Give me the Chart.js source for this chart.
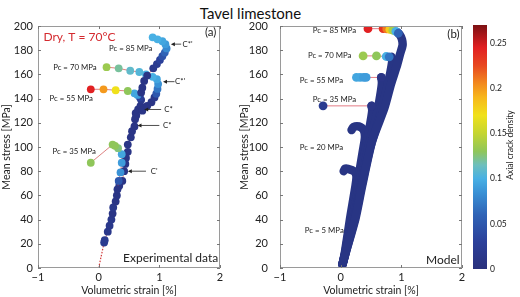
<!DOCTYPE html>
<html>
<head>
<meta charset="utf-8">
<script src="https://cdn.jsdelivr.net/npm/chart.js@4/dist/chart.umd.min.js"></script>
<style>
html, body { margin: 0; padding: 0; background: #fff; }
#wrap { position: relative; width: 520px; height: 297px; overflow: hidden; font-family: Lato, sans-serif; }
#wrap canvas { position: absolute; top: 0; }
#title { position: absolute; left: 0; width: 501px; top: 4px; text-align: center; font-size: 15px; color: #111; }
</style>
</head>
<body>
<div id="wrap">
	<div id="title">Tavel limestone</div>
	<canvas id="chartA" width="232" height="297" style="left:0"></canvas>
	<canvas id="chartB" width="234" height="297" style="left:238px"></canvas>
	<canvas id="chartC" width="54" height="297" style="left:466px"></canvas>
</div>
<script>
var xTicks = [-1, 0, 1, 2];
var yTicks = [0, 20, 40, 60, 80, 100, 120, 140, 160, 180, 200];
var densityTicks = [0, 0.05, 0.1, 0.15, 0.2, 0.25];
var densityMax = 0.27;

// (a) experimental data : volumetric strain, mean stress, axial crack density
var expMainX = [0.09, 0.10, 0.15, 0.18, 0.21, 0.23, 0.24, 0.28, 0.30, 0.34, 0.39, 0.42, 0.44, 0.45, 0.48, 0.48, 0.53, 0.55, 0.59, 0.60, 0.61];
var expMainY = [21, 23, 30, 35, 40, 45, 50, 55, 60, 68, 72, 80, 86, 91, 96, 102, 108, 113, 117, 123, 128];
var expMainD = [0.02, 0.02, 0.015, 0.015, 0.015, 0.01, 0.015, 0.01, 0.01, 0.01, 0.01, 0.01, 0.01, 0.01, 0.01, 0.01, 0.01, 0.01, 0.01, 0.01, 0.01];

var exp35X = [0.31, 0.33, 0.36, 0.38, 0.38, 0.32, 0.27, 0.23, -0.13];
var exp35Y = [65, 72, 79, 87, 94, 99, 101, 102, 87];
var exp35D = [0.01, 0.05, 0.085, 0.09, 0.095, 0.125, 0.13, 0.13, 0.13];

var exp55X = [0.62, 0.65, 0.69, 0.70, 0.68, 0.64, 0.59, 0.48, 0.28, 0.08, -0.13];
var exp55Y = [126, 131, 134, 139, 141, 143, 144.4, 146.3, 146.9, 147.7, 147.7];
var exp55D = [0.01, 0.01, 0.01, 0.015, 0.03, 0.09, 0.095, 0.13, 0.17, 0.2, 0.245];

var exp70X = [0.72, 0.80, 0.87, 0.92, 0.95, 0.97, 0.98, 0.96, 0.89, 0.78, 0.67, 0.52, 0.33, 0.13];
var exp70Y = [130, 134, 137, 141, 144, 148, 152, 156, 158, 160, 162, 163, 165, 166];
var exp70D = [0.01, 0.01, 0.01, 0.015, 0.05, 0.07, 0.085, 0.095, 0.1, 0.1, 0.105, 0.11, 0.12, 0.135];

var exp85X = [0.70, 0.72, 0.75, 0.80, 0.90, 0.96, 1.01, 1.05, 1.09, 1.12, 1.10, 1.05, 0.97, 0.89];
var exp85Y = [145, 149, 154.6, 159, 165, 168.5, 172, 175, 178, 181.5, 185, 187.4, 189, 190.6];
var exp85D = [0.01, 0.01, 0.01, 0.01, 0.015, 0.02, 0.03, 0.045, 0.06, 0.08, 0.09, 0.095, 0.1, 0.1];

var trendX = [0, 0.09];
var trendY = [0, 21];

// (b) model curves
var model5X = [0.03, 0.07, 0.155, 0.245, 0.26, 0.22, 0.12, 0.07, 0.05];
var model5Y = [3, 13, 41, 68, 76, 80, 82, 82, 80];
var model20X = [0.03, 0.075, 0.17, 0.27, 0.37, 0.40, 0.38, 0.30, 0.21, 0.18];
var model20Y = [3, 13, 41, 68, 98, 108, 114, 117, 116.5, 114];
var model35X = [0.03, 0.08, 0.20, 0.30, 0.42, 0.49, 0.52, 0.51];
var model35Y = [3, 13, 41, 68, 100, 120, 130, 134];
var model55X = [0.03, 0.08, 0.22, 0.33, 0.46, 0.60, 0.66, 0.68, 0.67];
var model55Y = [3, 13, 41, 68, 100, 128, 145, 153, 157.5];
var model70X = [0.03, 0.085, 0.235, 0.345, 0.49, 0.66, 0.76, 0.82, 0.85, 0.84];
var model70Y = [3, 13, 41, 68, 100, 128, 148, 162, 171, 174.5];
var model85X = [0.03, 0.085, 0.245, 0.355, 0.52, 0.72, 0.83, 0.92, 0.98, 1.02, 1.01, 0.97, 0.93];
var model85Y = [3, 13, 41, 68, 105, 132, 152, 166, 177, 184, 189, 193, 195];

// (b) model failure points
var dots85X = [0.45, 0.70, 0.76, 0.81, 0.86, 0.91, 0.95];
var dots85Y = [197.8, 197.8, 197.6, 197.2, 196.5, 195.5, 194];
var dots85D = [0.245, 0.235, 0.21, 0.18, 0.14, 0.1, 0.06];
var dots70X = [0.37, 0.59, 0.75, 0.80];
var dots70Y = [175.3, 175.3, 174.8, 174.5];
var dots70D = [0.135, 0.13, 0.1, 0.07];
var dots55X = [0.26, 0.32, 0.38, 0.42, 0.67];
var dots55Y = [157.5, 157.5, 157.5, 157.5, 157.5];
var dots55D = [0.095, 0.095, 0.09, 0.09, 0.01];
var dots35X = [-0.29, 0.51];
var dots35Y = [134, 134];
var dots35D = [0.02, 0.01];

var CMAP = [
	[0, '#29307c'], [0.03, '#2b409a'], [0.06, '#2f63b6'], [0.085, '#3a92d6'],
	[0.1, '#48b0e4'], [0.115, '#6dbfbd'], [0.13, '#8fc65a'], [0.15, '#c4d531'],
	[0.17, '#f0e11b'], [0.19, '#f7b71c'], [0.205, '#f28a1e'], [0.225, '#e8481f'],
	[0.245, '#e12022'], [0.27, '#7c1114']
];
var BAND = '#283584';
var AXIS_FONT = 'Lato';
var NOTE_SIZE = 7.8;

function hexRgb(h) {
	return [parseInt(h.substr(1, 2), 16), parseInt(h.substr(3, 2), 16), parseInt(h.substr(5, 2), 16)];
}

function cmap(v) {
	if(v <= CMAP[0][0]) return CMAP[0][1];
	for(var i = 1; i < CMAP.length; i++) {
		if(v <= CMAP[i][0]) {
			var t = (v - CMAP[i-1][0]) / (CMAP[i][0] - CMAP[i-1][0]);
			var a = hexRgb(CMAP[i-1][1]), b = hexRgb(CMAP[i][1]);
			return 'rgb(' + a.map(function(c, k) { return Math.round(c + (b[k] - c) * t); }).join(',') + ')';
		}
	}
	return CMAP[CMAP.length-1][1];
}

function pts(xs, ys) {
	return xs.map(function(x, i) { return {x: x, y: ys[i]}; });
}

function expSeries(xs, ys, ds) {
	return {
		data: pts(xs, ys),
		showLine: true,
		borderColor: 'rgba(205,70,70,0.85)',
		borderWidth: 0.8,
		pointRadius: 3.9,
		pointHoverRadius: 3.9,
		pointBorderWidth: 0,
		pointBackgroundColor: ds.map(cmap)
	};
}

function modelDots(xs, ys, ds) {
	return {
		data: pts(xs, ys),
		showLine: true,
		borderColor: 'rgba(225,110,120,0.9)',
		borderWidth: 1,
		pointRadius: 4.4,
		pointHoverRadius: 4.4,
		pointBorderWidth: 0,
		pointBackgroundColor: ds.map(cmap)
	};
}

function modelBand(xs, ys) {
	return {
		data: pts(xs, ys),
		showLine: true,
		borderColor: BAND,
		borderWidth: 8.5,
		borderCapStyle: 'round',
		borderJoinStyle: 'round',
		tension: 0.25,
		pointRadius: 0
	};
}

/*
 * Box round the plot, inward tick marks and the text notes
 */
function boxPlugin(notes, arrows) {
	return {
		id: 'box',
		afterDraw: function(chart) {
			var a = chart.chartArea, ctx = chart.ctx, sx = chart.scales.x, sy = chart.scales.y;
			ctx.save();
			ctx.strokeStyle = '#9a9a9a';
			ctx.lineWidth = 1;
			ctx.strokeRect(Math.round(a.left) + 0.5, Math.round(a.top) + 0.5, Math.round(a.right - a.left) - 1, Math.round(a.bottom - a.top) - 1);
			ctx.strokeStyle = '#777';
			ctx.beginPath();
			xTicks.forEach(function(v) {
				var p = Math.round(sx.getPixelForValue(v)) + 0.5;
				ctx.moveTo(p, a.bottom); ctx.lineTo(p, a.bottom - 3);
				ctx.moveTo(p, a.top); ctx.lineTo(p, a.top + 3);
			});
			yTicks.forEach(function(v) {
				var p = Math.round(sy.getPixelForValue(v)) + 0.5;
				ctx.moveTo(a.left, p); ctx.lineTo(a.left + 3, p);
				ctx.moveTo(a.right, p); ctx.lineTo(a.right - 3, p);
			});
			ctx.stroke();

			ctx.strokeStyle = '#222';
			ctx.fillStyle = '#222';
			(arrows || []).forEach(function(ar) {
				var x1 = sx.getPixelForValue(ar[0]), x2 = sx.getPixelForValue(ar[1]), y = sy.getPixelForValue(ar[2]);
				ctx.lineWidth = 0.8;
				ctx.beginPath(); ctx.moveTo(x1, y); ctx.lineTo(x2 + 3, y); ctx.stroke();
				ctx.beginPath(); ctx.moveTo(x2, y); ctx.lineTo(x2 + 4, y - 2); ctx.lineTo(x2 + 4, y + 2); ctx.closePath(); ctx.fill();
			});

			ctx.textBaseline = 'middle';
			notes.forEach(function(n) {
				ctx.font = n.size + 'px ' + AXIS_FONT;
				ctx.fillStyle = n.color || '#222';
				ctx.textAlign = n.align || 'left';
				ctx.fillText(n.text, sx.getPixelForValue(n.x), sy.getPixelForValue(n.y));
			});
			ctx.restore();
		}
	};
}

function axes(yWidth, yPad) {
	var font = {family: AXIS_FONT, size: 11};
	return {
		x: {
			type: 'linear', min: -1, max: 2,
			afterBuildTicks: function(s) { s.ticks = xTicks.map(function(v) { return {value: v}; }); },
			ticks: { font: font, color: '#222', padding: 3,
				callback: function(v) { return v < 0 ? '\u2212' + Math.abs(v) : String(v); } },
			grid: { display: false, drawTicks: false },
			border: { display: false },
			title: { display: true, text: 'Volumetric strain [%]', font: {family: AXIS_FONT, size: 10.5}, color: '#222', padding: 0 },
			afterFit: function(s) { s.height = 29; }
		},
		y: {
			type: 'linear', min: 0, max: 200,
			afterBuildTicks: function(s) { s.ticks = yTicks.map(function(v) { return {value: v}; }); },
			ticks: { font: font, color: '#222', padding: yPad },
			grid: { display: false, drawTicks: false },
			border: { display: false },
			title: { display: true, text: 'Mean stress [MPa]', font: {family: AXIS_FONT, size: 10.5}, color: '#222', padding: 0 },
			afterFit: function(s) { s.width = yWidth; }
		}
	};
}

var notesA = [
	{x: -0.91, y: 191, text: 'Dry, T = 70\u00b0C', size: 12, color: '#d42a2f'},
	{x: 1.94, y: 195, text: '(a)', size: 11.5, align: 'right'},
	{x: 0.17, y: 181.7, text: 'Pc = 85 MPa', size: NOTE_SIZE},
	{x: -0.75, y: 166, text: 'Pc = 70 MPa', size: NOTE_SIZE},
	{x: -0.81, y: 140.2, text: 'Pc = 55 MPa', size: NOTE_SIZE},
	{x: -0.76, y: 96.3, text: 'Pc = 35 MPa', size: NOTE_SIZE},
	{x: 1.38, y: 185, text: "C*'", size: NOTE_SIZE},
	{x: 1.26, y: 154, text: "C*'", size: NOTE_SIZE},
	{x: 1.08, y: 131, text: 'C*', size: NOTE_SIZE},
	{x: 1.06, y: 117.8, text: 'C*', size: NOTE_SIZE},
	{x: 0.86, y: 80, text: "C'", size: NOTE_SIZE},
	{x: 1.97, y: 8.3, text: 'Experimental data', size: 12, align: 'right'}
];
// [tail x, head x, y]
var arrowsA = [
	[1.36, 1.19, 185],
	[1.25, 1.06, 154],
	[1.03, 0.75, 131],
	[1.00, 0.64, 117.8],
	[0.78, 0.48, 80]
];

var notesB = [
	{x: 1.96, y: 193.4, text: '(b)', size: 11.5, align: 'right'},
	{x: -0.46, y: 196.7, text: 'Pc = 85 MPa', size: NOTE_SIZE},
	{x: -0.54, y: 175.3, text: 'Pc = 70 MPa', size: NOTE_SIZE},
	{x: -0.675, y: 154.7, text: 'Pc = 55 MPa', size: NOTE_SIZE},
	{x: -0.46, y: 139.1, text: 'Pc = 35 MPa', size: NOTE_SIZE},
	{x: -0.675, y: 99.6, text: 'Pc = 20 MPa', size: NOTE_SIZE},
	{x: -0.59, y: 31.3, text: 'Pc = 5 MPa', size: NOTE_SIZE},
	{x: 1.96, y: 6.6, text: 'Model', size: 12, align: 'right'}
];

var common = {
	responsive: false,
	animation: false,
	events: [],
	plugins: { legend: { display: false }, tooltip: { enabled: false } }
};

new Chart(document.getElementById('chartA'), {
	type: 'scatter',
	data: {
		datasets: [
			expSeries(exp85X, exp85Y, exp85D),
			expSeries(exp70X, exp70Y, exp70D),
			expSeries(exp55X, exp55Y, exp55D),
			expSeries(exp35X, exp35Y, exp35D),
			expSeries(expMainX, expMainY, expMainD),
			{ data: pts(trendX, trendY), showLine: true, borderColor: '#d23a3a', borderWidth: 1.2, borderDash: [1.5, 1.5], pointRadius: 0 }
		]
	},
	options: Object.assign({}, common, {
		layout: { padding: { top: 26, right: 12, bottom: 0, left: 0 } },
		scales: axes(38, 5)
	}),
	plugins: [boxPlugin(notesA, arrowsA)]
});

new Chart(document.getElementById('chartB'), {
	type: 'scatter',
	data: {
		datasets: [
			modelDots(dots85X, dots85Y, dots85D),
			modelDots(dots70X, dots70Y, dots70D),
			modelDots(dots55X, dots55Y, dots55D),
			modelDots(dots35X, dots35Y, dots35D),
			modelBand(model85X, model85Y),
			modelBand(model70X, model70Y),
			modelBand(model55X, model55Y),
			modelBand(model35X, model35Y),
			modelBand(model20X, model20Y),
			modelBand(model5X, model5Y)
		]
	},
	options: Object.assign({}, common, {
		layout: { padding: { top: 26, right: 10, bottom: 0, left: 0 } },
		scales: axes(42, 12)
	}),
	plugins: [boxPlugin(notesB)]
});

/*
 * Colour bar
 */
new Chart(document.getElementById('chartC'), {
	type: 'bar',
	data: {
		labels: [''],
		datasets: [{
			data: [densityMax],
			barPercentage: 1,
			categoryPercentage: 1,
			backgroundColor: function(c) {
				var ca = c.chart.chartArea;
				if(!ca) return cmap(0);
				var g = c.chart.ctx.createLinearGradient(0, ca.bottom, 0, ca.top);
				CMAP.forEach(function(s) { g.addColorStop(s[0] / densityMax, s[1]); });
				return g;
			}
		}]
	},
	options: Object.assign({}, common, {
		layout: { padding: { top: 25, right: 0, bottom: 28, left: 7 } },
		scales: {
			x: { display: false },
			y: {
				position: 'right', min: 0, max: densityMax,
				afterBuildTicks: function(s) { s.ticks = densityTicks.map(function(v) { return {value: v}; }); },
				ticks: { font: {family: AXIS_FONT, size: 8.5}, color: '#222', padding: 3,
					callback: function(v) { return String(+v.toFixed(2)); } },
				grid: { display: false, drawTicks: false },
				border: { display: false },
				afterFit: function(s) { s.width = 33; }
			}
		}
	}),
	plugins: [{
		id: 'cbTitle',
		afterDraw: function(chart) {
			var ctx = chart.ctx;
			ctx.save();
			ctx.translate(44, 145);
			ctx.rotate(-Math.PI / 2);
			ctx.font = '8.5px ' + AXIS_FONT;
			ctx.fillStyle = '#222';
			ctx.textAlign = 'center';
			ctx.textBaseline = 'middle';
			ctx.fillText('Axial crack density', 0, 0);
			ctx.restore();
		}
	}]
});
</script>
</body>
</html>
